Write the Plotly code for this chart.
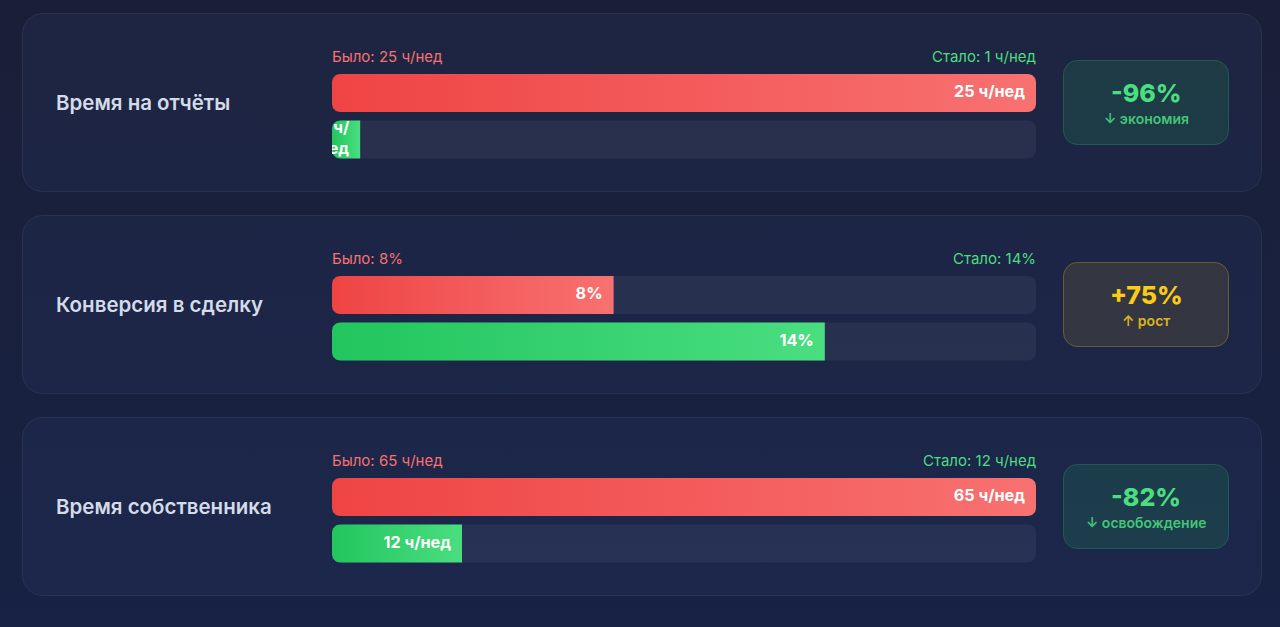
import numpy as np
import plotly.graph_objects as go

# ---------------- data ----------------
metrics = ["Время на отчёты", "Конверсия в сделку", "Время собственника"]
old_values = [25, 8, 65]
new_values = [1, 14, 12]
units = ["ч/нед", "%", "ч/нед"]
scale_max = [25, 20, 65]
change_labels = ["-96%", "+75%", "-82%"]
change_notes = ["↓ экономия", "↑ рост", "↓ освобождение"]
change_kind = ["good", "up", "good"]

# ---------------- style ----------------
W, H = 1280, 627
FONT = "Inter"
RED0, RED1 = "#ef4444", "#f87171"
GRN0, GRN1 = "#22c55e", "#4ade80"
YEL = "#facc15"
TRACK = "rgba(255,255,255,0.05)"

CARD_X0, CARD_X1 = 22, 1262
CARD_TOP = [13, 215, 417]
CARD_H = 179
BAR_X0, BAR_X1 = 332, 1036
ROW0_OFF, ROW1_OFF = 80, 126.5
ROW_STEP = ROW1_OFF - ROW0_OFF
BAR_H = 38
BAR_R = 8
BADGE_X0, BADGE_X1 = 1063, 1229
BADGE_H = 84


def fmt(v, u):
    return f"{v}%" if u == "%" else f"{v} {u}"


def arc(cx, cy, rx, ry, a0, a1, n=12):
    t = np.linspace(a0, a1, n)
    return list(cx + rx * np.cos(t)), list(cy + ry * np.sin(t))


def rounded(x0, x1, yt, yb, rx, ry, round_right=True):
    # rounded rectangle outline; y axis reversed (smaller = top)
    xs, ys = [], []
    ax, ay = arc(x0 + rx, yt + ry, rx, ry, np.pi, 1.5 * np.pi)
    xs += ax; ys += ay
    if round_right:
        ax, ay = arc(x1 - rx, yt + ry, rx, ry, 1.5 * np.pi, 2 * np.pi)
        xs += ax; ys += ay
        ax, ay = arc(x1 - rx, yb - ry, rx, ry, 0, 0.5 * np.pi)
        xs += ax; ys += ay
    else:
        xs += [x1, x1]; ys += [yt, yb]
    ax, ay = arc(x0 + rx, yb - ry, rx, ry, 0.5 * np.pi, np.pi)
    xs += ax; ys += ay
    xs.append(xs[0]); ys.append(ys[0])
    return xs, ys


def bar_shape(v, vmax, row, round_right):
    rx = BAR_R * vmax / (BAR_X1 - BAR_X0)
    ry = BAR_R / ROW_STEP
    hh = (BAR_H / 2) / ROW_STEP
    return rounded(0, v, row - hh, row + hh, rx, ry, round_right)


fig = go.Figure()

fig.update_layout(
    xaxis=dict(domain=[0, 1], range=[0, W], visible=False, fixedrange=True),
    yaxis=dict(domain=[0, 1], range=[H, 0], visible=False, fixedrange=True),
)
# page background
fig.add_trace(go.Scatter(
    x=[0, W, W, 0, 0], y=[0, 0, H, H, 0], mode="lines", fill="toself",
    line=dict(width=0), hoverinfo="skip", showlegend=False,
    fillgradient=dict(type="vertical", colorscale=[[0, "#172244"], [1, "#1a1f38"]]),
    xaxis="x", yaxis="y"))

annotations = []

for i, name in enumerate(metrics):
    top = CARD_TOP[i]
    cy = top + CARD_H / 2
    # card panel
    xs, ys = rounded(CARD_X0 + 0.5, CARD_X1 - 0.5, top + 0.5, top + CARD_H - 0.5, 20, 20)
    fig.add_trace(go.Scatter(x=xs, y=ys, mode="lines", fill="toself",
                             fillcolor="rgba(60,80,130,0.13)",
                             line=dict(color="rgba(255,255,255,0.07)", width=1),
                             hoverinfo="skip", showlegend=False, xaxis="x", yaxis="y"))
    # metric name
    annotations.append(dict(xref="x", yref="y", x=56, y=cy, xanchor="left", yanchor="middle",
                            text=name, showarrow=False, xshift=-2,
                            font=dict(family=FONT, size=20.5, color="#d4dbe8", weight=600)))
    # badge
    col = GRN1 if change_kind[i] == "good" else YEL
    rgb = "34,197,94" if change_kind[i] == "good" else "250,204,21"
    fill_a = 0.14 if change_kind[i] == "good" else 0.11
    by0 = cy - BADGE_H / 2
    xs, ys = rounded(BADGE_X0 + 0.5, BADGE_X1 - 0.5, by0, by0 + BADGE_H, 14, 14)
    fig.add_trace(go.Scatter(x=xs, y=ys, mode="lines", fill="toself",
                             fillcolor=f"rgba({rgb},{fill_a})",
                             line=dict(color=f"rgba({rgb},0.30)", width=1),
                             hoverinfo="skip", showlegend=False, xaxis="x", yaxis="y"))
    annotations.append(dict(xref="x", yref="y", x=(BADGE_X0 + BADGE_X1) / 2, y=cy - 10,
                            xanchor="center", yanchor="middle", text=change_labels[i], showarrow=False,
                            font=dict(family=FONT, size=25, color=col, weight=800)))
    annotations.append(dict(xref="x", yref="y", x=(BADGE_X0 + BADGE_X1) / 2, y=cy + 16,
                            xanchor="center", yanchor="middle", text=change_notes[i], showarrow=False,
                            font=dict(family=FONT, size=14, color=col, weight=600), opacity=0.85))

    # bar subplot
    k = i + 2
    vmax = scale_max[i]
    c0 = top + ROW0_OFF
    c1 = top + ROW1_OFF
    px_top = c0 - ROW_STEP / 2
    px_bot = c1 + ROW_STEP / 2
    fig.update_layout(**{
        f"xaxis{k}": dict(domain=[BAR_X0 / W, BAR_X1 / W], range=[0, vmax], visible=False,
                          fixedrange=True, anchor=f"y{k}"),
        f"yaxis{k}": dict(domain=[1 - px_bot / H, 1 - px_top / H], range=[1.5, -0.5], visible=False,
                          fixedrange=True, anchor=f"x{k}"),
    })
    for row in (0, 1):
        xs, ys = bar_shape(vmax, vmax, row, True)
        fig.add_trace(go.Scatter(x=xs, y=ys, mode="lines", fill="toself", fillcolor=TRACK,
                                 line=dict(width=0), hoverinfo="skip", showlegend=False,
                                 xaxis=f"x{k}", yaxis=f"y{k}"))
    for row, v, c_a, c_b in ((0, old_values[i], RED0, RED1), (1, new_values[i], GRN0, GRN1)):
        rr = BAR_R * vmax / (BAR_X1 - BAR_X0)
        xs, ys = bar_shape(v, vmax, row, v >= vmax - rr)
        fig.add_trace(go.Scatter(x=xs, y=ys, mode="lines", fill="toself",
                                 fillgradient=dict(type="horizontal", colorscale=[[0, c_a], [1, c_b]]),
                                 line=dict(width=0), hoverinfo="skip", showlegend=False,
                                 xaxis=f"x{k}", yaxis=f"y{k}"))
        label = fmt(v, units[i])
        bar_px = v / vmax * (BAR_X1 - BAR_X0)
        if bar_px < 60:
            label = label.replace("/", "/<br>")
        pad = 11 * vmax / (BAR_X1 - BAR_X0)
        fig.add_trace(go.Scatter(x=[v - pad], y=[row], mode="text", text=[label],
                                 textposition="middle left", cliponaxis=True,
                                 textfont=dict(family=FONT, size=16.2, color="white", weight=700),
                                 hoverinfo="skip", showlegend=False,
                                 xaxis=f"x{k}", yaxis=f"y{k}"))
    annotations.append(dict(xref=f"x{k}", yref="y", x=0, y=top + 43, xanchor="left", yanchor="middle",
                            text=f"Было: {fmt(old_values[i], units[i])}", showarrow=False, xshift=-2,
                            font=dict(family=FONT, size=15, color=RED1)))
    annotations.append(dict(xref=f"x{k}", yref="y", x=vmax, y=top + 43, xanchor="right", yanchor="middle",
                            text=f"Стало: {fmt(new_values[i], units[i])}", showarrow=False, xshift=2,
                            font=dict(family=FONT, size=15, color=GRN1)))

fig.update_layout(
    width=W, height=H, autosize=False,
    margin=dict(l=0, r=0, t=0, b=0, pad=0),
    paper_bgcolor="#19203a", plot_bgcolor="rgba(0,0,0,0)",
    showlegend=False, annotations=annotations,
    font=dict(family=FONT),
)

fig.write_html("out.html", config={"displayModeBar": False, "staticPlot": True},
               post_script="document.body.style.margin='0';document.body.style.overflow='hidden';")
